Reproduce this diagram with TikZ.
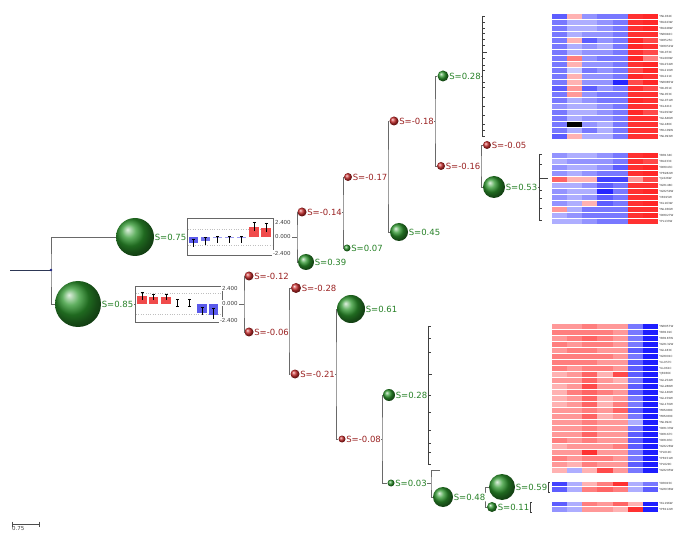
\documentclass[tikz,border=0pt]{standalone}
\usepackage{fontspec}
\setmainfont{DejaVu Sans}
\definecolor{tline}{RGB}{105,105,105}
\definecolor{gtxt}{RGB}{40,130,40}
\definecolor{rtxt}{RGB}{155,35,35}
\definecolor{hmb}{RGB}{30,30,255}
\definecolor{hmr}{RGB}{255,40,40}
\definecolor{barb}{RGB}{90,90,235}
\definecolor{barr}{RGB}{240,75,75}
\definecolor{gball}{RGB}{45,150,45}
\definecolor{rball}{RGB}{200,45,45}
\definecolor{rootc}{RGB}{45,55,85}
\newcommand\hmcellw{15.15}
\newcommand\hmap[3]{%
  \foreach \row [count=\r from 0] in {#3} {%
    \foreach \v [count=\c from 0] in \row {%
      \pgfmathsetmacro\cx{552+\c*\hmcellw}%
      \pgfmathsetmacro\cy{#1+\r*#2}%
      \ifnum\v>50 \def\hmcol{black}\else
        \pgfmathtruncatemacro\hmp{min(100,abs(\v)*12)}%
        \ifnum\v<0 \edef\hmcol{hmb!\hmp!white}\else\edef\hmcol{hmr!\hmp!white}\fi
      \fi
      \fill[fill=\hmcol] (\cx,\cy) rectangle ++(\hmcellw,#2);
    }%
    \pgfmathsetmacro\cy{#1+\r*#2}%
    \draw[white, line width=0.35pt] (552,\cy) -- ++(106,0);
  }}
\newcommand\errbar[3]{\draw[black, line width=0.5pt] (#1,#2) -- (#1,#3) (#1-1.5,#2) -- (#1+1.5,#2);}
\begin{document}
\begin{tikzpicture}[x=1pt,y=-1pt,
  tree/.style={draw=tline, line width=0.8pt},
  leaf/.style={draw=black!75, line width=0.7pt},
  gs/.style={circle, inner sep=0pt, ball color=gball},
  rs/.style={circle, inner sep=0pt, ball color=rball},
  glbl/.style={anchor=west, text=gtxt, font=\fontsize{8.5}{9}\selectfont, inner sep=0.4pt, fill=white},
  rlbl/.style={anchor=west, text=rtxt, font=\fontsize{8.5}{9}\selectfont, inner sep=0.4pt, fill=white},
  chartbox/.style={draw=black!60, fill=white, line width=0.6pt, inner sep=0pt},
  axl/.style={font=\fontsize{5.5}{6}\selectfont, text=black!75, anchor=west, inner sep=0.8pt, fill=white},
  gene/.style={font=\fontsize{2.8}{3}\selectfont, text=black!80, anchor=west, inner sep=0.2pt},
  grid/.style={draw=black!25, dotted, line width=0.4pt}]
\useasboundingbox (0,0) rectangle (685,534);

% ---------------- spheres ----------------
\node[gs, minimum size=38pt] (n075) at (135,237) {};
\node[gs, minimum size=46pt] (n085) at (78,304) {};
\node[rs, minimum size=9pt] (n012) at (249,276) {};
\node[rs, minimum size=9pt] (n006) at (249,332) {};
\node[rs, minimum size=9pt] (n014) at (302,212) {};
\node[gs, minimum size=16pt] (n039) at (306,262) {};
\node[rs, minimum size=8pt] (n017) at (348,177) {};
\node[gs, minimum size=7pt] (n007) at (347,248) {};
\node[rs, minimum size=9pt] (n018) at (394,121) {};
\node[gs, minimum size=18pt] (n045) at (399,232) {};
\node[gs, minimum size=11pt] (n028a) at (443,76) {};
\node[rs, minimum size=8pt] (n016) at (441,166) {};
\node[rs, minimum size=8pt] (n005) at (487,145) {};
\node[gs, minimum size=22pt] (n053) at (494,187) {};
\node[rs, minimum size=10pt] (n028) at (296,288) {};
\node[rs, minimum size=9pt] (n021) at (295,374) {};
\node[gs, minimum size=28pt] (n061) at (351,309) {};
\node[rs, minimum size=7pt] (n008) at (342,439) {};
\node[gs, minimum size=12pt] (n028b) at (389,395) {};
\node[gs, minimum size=7pt] (n003) at (391,483) {};
\node[gs, minimum size=20pt] (n048) at (443,497) {};
\node[gs, minimum size=26pt] (n059) at (502,487) {};
\node[gs, minimum size=10pt] (n011) at (492,507) {};

% ---------------- junctions ----------------
\coordinate (rin) at (10,270);
\coordinate (jr) at (51,270);
\coordinate (j075) at (297,237);
\coordinate (j085) at (244,304);
\coordinate (j014) at (343,212);
\coordinate (j017) at (388,177);
\coordinate (j018) at (435,121);
\coordinate (j028a) at (482,76);
\coordinate (j016) at (481,166);
\coordinate (j053) at (539,187);
\coordinate (j006) at (289,331);
\coordinate (j021) at (336,374);
\coordinate (j008) at (382,439);
\coordinate (j028b) at (428,395);
\coordinate (j003) at (431,483);
\coordinate (lf003) at (440,470);
\coordinate (j048) at (485,497);
\coordinate (j059) at (548,487);
\coordinate (j011) at (530,507);

% ---------------- connectors ----------------
\draw[draw=rootc, line width=0.8pt] (rin) -- (jr);
\draw[tree] (n075) -| (jr) |- (n085);
\draw[tree] (n075) -- (j075);
\draw[tree] (n085) -- (j085);
\draw[tree] (n014) -| (j075) |- (n039);
\draw[tree] (n012) -| (j085) |- (n006);
\draw[tree] (n014) -- (j014);
\draw[tree] (n017) -| (j014) |- (n007);
\draw[tree] (n017) -- (j017);
\draw[tree] (n018) -| (j017) |- (n045);
\draw[tree] (n018) -- (j018);
\draw[tree] (n028a) -| (j018) |- (n016);
\draw[tree] (n028a) -- (j028a);
\draw[tree] (n016) -- (j016);
\draw[tree] (n005) -| (j016) |- (n053);
\draw[tree] (n053) -- (j053);
\draw[tree] (n006) -- (j006);
\draw[tree] (n028) -| (j006) |- (n021);
\draw[tree] (n021) -- (j021);
\draw[tree] (n061) -| (j021) |- (n008);
\draw[tree] (n008) -- (j008);
\draw[tree] (n028b) -| (j008) |- (n003);
\draw[tree] (n028b) -- (j028b);
\draw[tree] (n003) -- (j003);
\draw[tree] (lf003) -| (j003) |- (n048);
\draw[tree] (n048) -- (j048);
\draw[tree] (n059) -| (j048) |- (n011);
\draw[tree] (n059) -- (j059);
\draw[tree] (n011) -- (j011);
\fill[rootc!70!blue] (jr) circle (1.4pt);

% ---------------- leaf dendrograms ----------------
\coordinate (la1) at (482,16); \coordinate (lb1) at (482,137);
\draw[leaf] (la1) -- (lb1);
\foreach \y in {16,22,28,33,39,45,58,65,70,82,87,97,106,115,124,130,136} \draw[leaf, line width=0.5pt] (482,\y) -- ++(2.5,0);
\draw[leaf, line width=0.5pt] (482,52) -- ++(5,0);
\coordinate (la2) at (539,154); \coordinate (lb2) at (539,220);
\draw[leaf] (la2) -- (lb2);
\foreach \y in {154,164,190,198,208,220} \draw[leaf, line width=0.5pt] (539,\y) -- ++(2.5,0);
\draw[leaf, line width=0.5pt] (539,178) -- ++(9,0);
\coordinate (la3) at (428,326); \coordinate (lb3) at (428,464);
\draw[leaf] (la3) -- (lb3);
\foreach \y in {326,338,352,395,412,430,443,452,464} \draw[leaf, line width=0.5pt] (428,\y) -- ++(2.5,0);
\draw[leaf, line width=0.5pt] (428,374) -- ++(4,0);
\draw[leaf] (548,482) -- (548,492);
\draw[leaf, line width=0.5pt] (548,482) -- ++(2,0) (548,492) -- ++(2,0);
\draw[leaf] (530,502) -- (530,512);
\draw[leaf, line width=0.5pt] (530,502) -- ++(2,0) (530,512) -- ++(2,0);

% ---------------- bar chart 1 (S=0.75) ----------------
\node[chartbox, minimum width=86pt, minimum height=37pt] (box1) at (230,236.5) {};
\draw[grid] (188,229) -- (272,229) (188,245) -- (272,245);
\fill[barb] (189,237) rectangle (198,243);
\fill[barb!85] (201,237) rectangle (210,241);
\fill[barb!60] (213,237) rectangle (222,238.5);
\fill[barb!60] (225,237) rectangle (234,238.5);
\fill[barb!60] (237,237) rectangle (246,238.5);
\fill[barr] (249,227) rectangle (259,237);
\fill[barr] (261,228) rectangle (271,237);
\errbar{193.5}{239}{247}
\errbar{205.5}{237}{245}
\errbar{217.5}{236}{243}
\errbar{229.5}{236}{243}
\errbar{241.5}{236}{243}
\errbar{254}{222}{231}
\errbar{266}{223}{232}
\node[axl] (a1t) at (274,222) {2.400};
\node[axl] (a1m) at (274,236) {0.000};
\node[axl] (a1b) at (272,253) {-2.400};

% ---------------- bar chart 2 (S=0.85) ----------------
\node[chartbox, minimum width=87pt, minimum height=36pt] (box2) at (178.5,304) {};
\draw[grid] (136,293) -- (221,293) (136,314) -- (221,314);
\fill[barr] (137,296) rectangle (147,304);
\fill[barr] (149,297) rectangle (158,304);
\fill[barr] (161,297) rectangle (171,304);
\fill[barb] (197,304) rectangle (207,313);
\fill[barb] (209,304) rectangle (218,315);
\errbar{142}{292}{300}
\errbar{153.5}{294}{300}
\errbar{166}{294}{300}
\errbar{177.5}{299}{306}
\draw[black, line width=0.5pt] (176,306) -- (179,306) (188,306) -- (191,306);
\errbar{189.5}{299}{306}
\errbar{202}{307}{315}
\errbar{213.5}{308}{319}
\node[axl] (a2t) at (221,288) {2.400};
\node[axl] (a2m) at (221,303) {0.000};
\node[axl] (a2b) at (219,320) {-2.400};

% ---------------- labels ----------------
\node[glbl] (t075) at (n075.east) {S=0.75};
\node[glbl] (t085) at (n085.east) {S=0.85};
\node[rlbl] (t012) at (n012.east) {S=-0.12};
\node[rlbl] (t006) at (n006.east) {S=-0.06};
\node[rlbl] (t014) at (n014.east) {S=-0.14};
\node[glbl] (t039) at (n039.east) {S=0.39};
\node[rlbl] (t017) at (n017.east) {S=-0.17};
\node[glbl] (t007) at (n007.east) {S=0.07};
\node[rlbl] (t018) at (n018.east) {S=-0.18};
\node[glbl] (t045) at (n045.east) {S=0.45};
\node[glbl] (t028a) at (n028a.east) {S=0.28};
\node[rlbl] (t016) at (n016.east) {S=-0.16};
\node[rlbl] (t005) at (n005.east) {S=-0.05};
\node[glbl] (t053) at (n053.east) {S=0.53};
\node[rlbl] (t028) at (n028.east) {S=-0.28};
\node[rlbl] (t021) at (n021.east) {S=-0.21};
\node[glbl] (t061) at (n061.east) {S=0.61};
\node[rlbl] (t008) at (n008.east) {S=-0.08};
\node[glbl] (t028b) at (n028b.east) {S=0.28};
\node[glbl] (t003) at (n003.east) {S=0.03};
\node[glbl] (t048) at (n048.east) {S=0.48};
\node[glbl] (t059) at (n059.east) {S=0.59};
\node[glbl] (t011) at (n011.east) {S=0.11};

% ---------------- heatmaps ----------------
\hmap{13}{6}{{-6,3,-4,-5,-5,8,9},{-5,-3,-3,-4,-5,8,9},{-5,-3,-3,-4,-5,8,9},{-5,-3,-4,-4,-5,8,8},
{-5,3,-6,-4,-5,9,7},{-5,-3,-4,-3,-5,9,8},{-5,-3,-4,-4,-5,8,7},{-5,5,-4,-5,-5,9,5},
{-5,3,-4,-4,-5,8,9},{-5,-2,-5,-4,-5,7,9},{-5,3,-4,-4,-5,9,8},{-5,3,-4,-4,-8,7,9},
{-6,4,-6,-4,-5,8,7},{-5,4,-4,-5,-5,8,8},{-5,-3,-4,-5,-5,9,8},{-4,-3,-3,-4,-5,8,8},
{-5,-3,-3,-4,-5,9,7},{-5,-3,-4,-4,-5,8,8},{-5,99,-4,-3,-5,8,8},{-5,-3,-5,-3,-5,8,8},
{-6,3,-3,-3,-5,8,8}}
\hmap{152}{6}{{-4,-3,-3,-4,-5,8,9},{-3,-4,-4,-4,-5,8,7},{-4,-3,-3,-4,-6,8,9},{-4,-3,-4,-5,-5,8,9},
{6,3,3,-7,-7,4,7},{-3,-3,-4,-6,-5,8,8},{-4,-3,-3,-8,-5,8,9},{-4,-3,-4,-6,-5,8,8},
{-4,-3,3,-6,-5,8,9},{4,-3,-5,-5,-5,8,8},{-3,-4,-5,-5,-5,8,9},{-3,-3,-4,-5,-5,8,8}}
\hmap{323}{6}{{4,4,5,4,4,-5,-9},{5,5,5,5,4,-5,-9},{4,5,6,5,4,-5,-9},{5,4,5,5,4,-5,-10},
{4,5,5,4,4,-6,-9},{5,5,5,5,4,-5,-9},{5,5,5,4,4,-6,-9},{5,4,5,5,4,-6,-9},
{3,4,6,3,7,-6,-9},{4,4,6,4,3,-5,-9},{3,4,7,4,4,-6,-9},{3,5,6,5,4,-6,-9},
{3,4,6,3,4,-5,-9},{3,4,6,3,5,-5,-9},{4,4,5,4,6,-6,-9},{4,4,6,3,4,-5,-9},
{4,4,5,4,4,-3,-10},{4,4,5,4,4,-5,-9},{4,4,6,4,4,-6,-9},{5,4,5,4,4,-6,-9},
{3,4,4,4,5,-6,-9},{4,4,8,4,4,-5,-9},{5,4,5,5,4,-5,-9},{4,3,5,4,4,-6,-9},
{3,-3,3,7,4,-5,-9}}
\hmap{481}{5.5}{{-7,-3,3,5,8,-3,-5},{-6,-3,5,6,5,-3,-6}}
\hmap{501}{5.5}{{-6,-3,5,4,6,3,-9},{-4,-3,4,4,3,8,-9}}

% ---------------- gene names ----------------
\foreach \g [count=\i from 0] in {YNL034C,YBL043W,YBL048W,YNR040C,YDR525C,YDR051W,YDL073C,YKL009W,YOL254W,YOL210W,YOL221C,YNR085W,YDL051C,YNL053C,YGL071W,YKL441C,YKL093W,YGL646W,YGL180C,YML109W,YNL093W}
  \node[gene] (ga\i) at (659,{16+\i*6}) {\g};
\foreach \g [count=\i from 0] in {YBR134C,YBL033C,YDR043C,YPR282W,YJL026W,YGR148C,YGR259W,YIR015W,YKL163W,YNL036W,YDR027W,YPL133W}
  \node[gene] (gb\i) at (659,{155+\i*6}) {\g};
\foreach \g [count=\i from 0] in {YNR057W,YBR101C,YBR187W,YGR132W,YGL183C,YGR001C,YLL057C,YLL061C,YJR036C,YGL254W,YGL288W,YGL140W,YGL159W,YGL170W,YMR288C,YMR289C,YNL092C,YDR133W,YDR167C,YDR183C,YGR226W,YPL019C,YPR151W,YPL029C,YGR295W}
  \node[gene] (gc\i) at (659,{326+\i*6}) {\g};
\node[gene] (gd0) at (659,483.7) {YOR015C};
\node[gene] (gd1) at (659,489.2) {YGR036W};
\node[gene] (ge0) at (659,503.7) {YKL196W};
\node[gene] (ge1) at (659,509.2) {YPR112W};

% ---------------- scale bar ----------------
\coordinate (sb1) at (12,524); \coordinate (sb2) at (39,524);
\draw[black!70, line width=0.6pt] (sb1) -- (sb2);
\draw[black!70, line width=0.6pt] (12,521.5) -- (12,526.5) (39,521.5) -- (39,526.5);
\node[anchor=north west, inner sep=0.5pt, font=\fontsize{5.5}{6}\selectfont, text=black!75] (sbl) at (11.5,525.5) {0.75};
\end{tikzpicture}
\end{document}
